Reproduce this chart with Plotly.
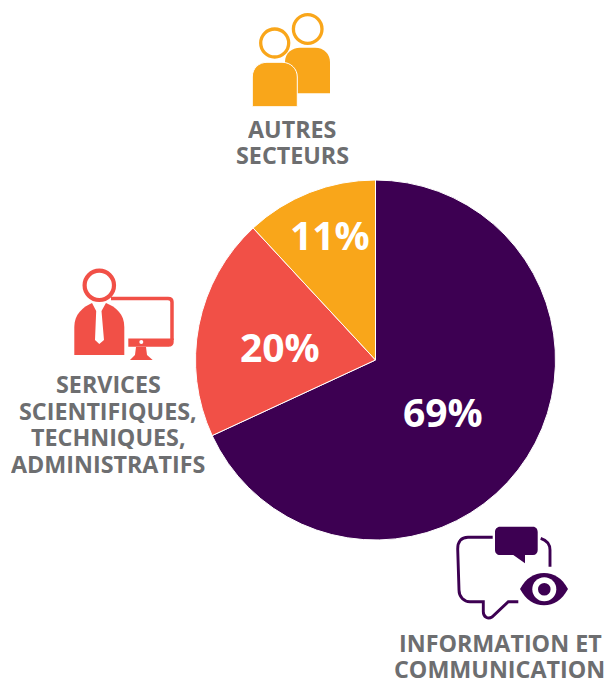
import re
import plotly.graph_objects as go

W, H = 609, 678

# Data
sectors = ["Information et communication", "Services scientifiques, techniques, administratifs", "Autres secteurs"]
drawn_shares = [68.1, 20.0, 11.9]
printed_labels = ["69%", "20%", "11%"]
slice_colors = ["#3d0052", "#f15047", "#f9a61a"]
label_centers = [(443, 411), (280, 346), (330, 234)]

# Category captions (one entry per line)
caption_lines = ["AUTRES", "SECTEURS", "SERVICES", "SCIENTIFIQUES,", "TECHNIQUES,", "ADMINISTRATIFS", "INFORMATION ET", "COMMUNICATION"]
caption_centers = [(292, 129), (292, 155), (108, 383), (108, 410), (108, 436), (108, 463), (500, 642), (499, 668)]

CX, CY, R = 375.5, 360.0, 180.0
ORANGE, RED, PURPLE = slice_colors[2], slice_colors[1], slice_colors[0]
GREY = "#6d6e70"
FONT = "Open Sans"


def path(d):
    toks = re.findall(r"[A-Za-z]|-?\d+\.?\d*", d)
    out, i = [], 0
    for t in toks:
        if t.isalpha():
            out.append(t)
        else:
            v = float(t)
            out.append(f"{v / W:.5f}" if i % 2 == 0 else f"{1 - v / H:.5f}")
            i += 1
    return " ".join(out)


shapes = []


def add_path(d, fill=None, line=None, width=0):
    s = dict(type="path", xref="paper", yref="paper", path=path(d), layer="above")
    s["fillcolor"] = fill if fill else "rgba(0,0,0,0)"
    s["line"] = dict(color=line if line else "rgba(0,0,0,0)", width=width)
    shapes.append(s)


def add_circle(cx, cy, r, fill=None, line=None, width=0):
    shapes.append(dict(type="circle", xref="paper", yref="paper", layer="above",
                       x0=(cx - r) / W, x1=(cx + r) / W, y0=1 - (cy + r) / H, y1=1 - (cy - r) / H,
                       fillcolor=fill if fill else "rgba(0,0,0,0)",
                       line=dict(color=line if line else "rgba(0,0,0,0)", width=width)))


# Icon: two people
add_circle(307.7, 29, 14.3, line=ORANGE, width=3.3)
add_path("M 285 93.3 L 285 62 C 285 53 292 47.7 300 47.7 L 315 47.7 C 324 47.7 330 54 330 62 L 330 93.3 Z", fill=ORANGE)
add_circle(274.7, 43, 14, line=ORANGE, width=3.3)
add_path("M 252.3 106.7 L 252.3 77 C 252.3 68 259 62.3 267 62.3 L 282 62.3 C 291 62.3 297.3 69 297.3 77 L 297.3 106.7 Z",
         fill=ORANGE, line="#ffffff", width=1)

# Icon: person and monitor
add_circle(99.3, 285.3, 14.7, line=RED, width=4.2)
add_path("M 74.3 355 L 74.3 327 C 74.3 314 83 307 92 303 L 106 303 C 116 307 124.3 314 124.3 327 L 124.3 355 Z", fill=RED)
add_path("M 91.5 302 L 96.2 311 L 95 340 L 99.3 344 L 104 340 L 101.5 311 L 106.5 302 Z", fill="#ffffff")
add_path("M 111 298.6 L 168 298.6 C 171 298.6 172 300 172 302 L 172 340", line=RED, width=3.5)
add_path("M 128.3 338.5 L 173.7 338.5 L 173.7 342 C 173.7 345 171.5 346.7 169 346.7 L 128.3 346.7 Z", fill=RED)
add_circle(141.3, 342, 2, fill="#ffffff")
add_path("M 136 347 L 146 347 L 147 355 L 152.7 360 L 130 360 L 135 355 Z", fill=RED)

# Icon: speech bubbles and eye
add_path("M 492.7 537.3 L 468 537.3 C 461 537.3 457.7 542 457.7 549 L 459 590 C 459 597 464 601.7 470 601.7 "
         "L 483.3 601.7 L 483.3 611.7 C 483.3 617 488 619.5 492 617 L 508.3 601.7 L 518.3 601.7",
         line=PURPLE, width=2.9)
add_path("M 540.7 538.3 C 546 540 550 544 550 550 L 550 566.7", line=PURPLE, width=2.9)
add_path("M 500 526.7 L 533 526.7 C 536 526.7 537.7 529 537.7 532 L 537.7 550 C 537.7 553 536 555 533 555 L 525 555 "
         "L 525 563.3 L 513.3 555 L 500 555 C 497 555 495 553 495 550 L 495 532 C 495 529 497 526.7 500 526.7 Z", fill=PURPLE)
add_path("M 520 589 C 526 578 534 573 544 573 C 554 573 562 578 568 589 C 562 600 554 605.3 544 605.3 C 534 605.3 526 600 520 589 Z", fill=PURPLE)
add_circle(544.3, 589.3, 12, fill="#ffffff")
add_circle(544.3, 589.3, 6.3, fill=PURPLE)

annotations = [
    dict(x=p[0] / W, y=1 - p[1] / H, xref="paper", yref="paper", text=t, showarrow=False,
         xanchor="center", yanchor="middle", height=25,
         font=dict(family=FONT, size=23.3, color=GREY, weight=700))
    for t, p in zip(caption_lines, caption_centers)
] + [
    dict(x=p[0] / W, y=1 - p[1] / H, xref="paper", yref="paper", text=t, showarrow=False,
         xanchor="center", yanchor="middle", font=dict(family=FONT, size=39, color="#ffffff", weight=700))
    for t, p in zip(printed_labels, label_centers)
]

fig = go.Figure(go.Pie(
    labels=sectors, values=drawn_shares, sort=False, direction="clockwise", rotation=0,
    marker=dict(colors=slice_colors, line=dict(color="#ffffff", width=1)),
    textinfo="none", hoverinfo="label", showlegend=False,
    domain=dict(x=[(CX - R) / W, (CX + R) / W], y=[1 - (CY + R) / H, 1 - (CY - R) / H]),
))
fig.update_layout(width=W, height=H, margin=dict(l=0, r=0, t=0, b=0, pad=0), paper_bgcolor="#ffffff",
                  shapes=shapes, annotations=annotations, showlegend=False)
fig.write_html("out.html", config=dict(displayModeBar=False),
               post_script="document.body.style.margin='0';document.documentElement.style.overflow='hidden';")
